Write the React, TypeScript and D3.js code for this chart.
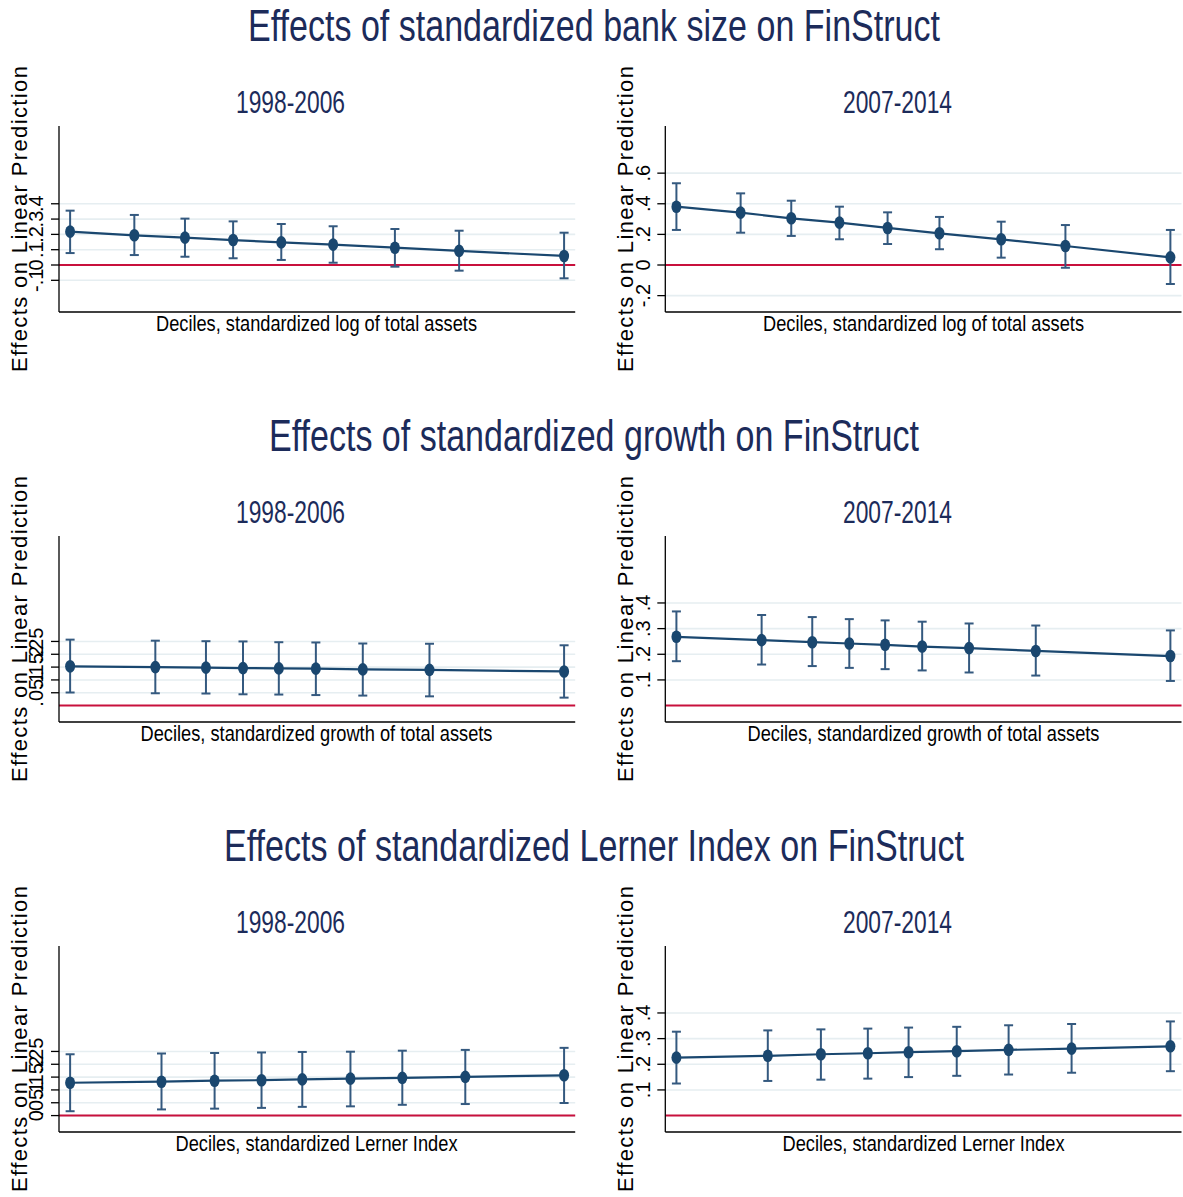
import React from 'react';
import * as d3 from 'd3';

const periods = ["1998-2006", "2007-2014"];
const sectionTitles = [
  "Effects of standardized bank size on FinStruct",
  "Effects of standardized growth on FinStruct",
  "Effects of standardized Lerner Index on FinStruct",
];
const xAxisTitles = [
  "Deciles, standardized log of total assets",
  "Deciles, standardized growth of total assets",
  "Deciles, standardized Lerner Index",
];
const yAxisTitle = "Effects on Linear Prediction";

const sizeDeciles = [-1.5, -0.98, -0.57, -0.18, 0.21, 0.63, 1.13, 1.65, 2.5];
const growthDeciles = [-1.5, -0.81, -0.4, -0.1, 0.19, 0.49, 0.87, 1.41, 2.5];
const lernerDeciles = [-1.5, -0.76, -0.33, 0.05, 0.38, 0.77, 1.19, 1.7, 2.5];

const sizeEarlyEst = [0.218, 0.194, 0.179, 0.163, 0.148, 0.133, 0.113, 0.092, 0.059];
const sizeEarlyLo = [0.078, 0.065, 0.054, 0.044, 0.033, 0.015, -0.011, -0.037, -0.087];
const sizeEarlyHi = [0.355, 0.327, 0.303, 0.285, 0.268, 0.253, 0.235, 0.224, 0.211];
const sizeLateEst = [0.381, 0.342, 0.305, 0.277, 0.242, 0.207, 0.168, 0.124, 0.05];
const sizeLateLo = [0.229, 0.211, 0.19, 0.168, 0.137, 0.103, 0.048, -0.018, -0.124];
const sizeLateHi = [0.534, 0.468, 0.42, 0.381, 0.344, 0.314, 0.283, 0.261, 0.229];
const growthEarlyEst = [0.153, 0.15, 0.148, 0.146, 0.145, 0.144, 0.141, 0.139, 0.133];
const growthEarlyLo = [0.051, 0.048, 0.047, 0.044, 0.043, 0.041, 0.039, 0.036, 0.031];
const growthEarlyHi = [0.257, 0.253, 0.251, 0.25, 0.247, 0.246, 0.242, 0.241, 0.235];
const growthLateEst = [0.268, 0.255, 0.247, 0.242, 0.237, 0.23, 0.224, 0.213, 0.193];
const growthLateLo = [0.173, 0.16, 0.154, 0.147, 0.142, 0.137, 0.129, 0.117, 0.096];
const growthLateHi = [0.367, 0.353, 0.345, 0.337, 0.332, 0.327, 0.32, 0.312, 0.293];
const lernerEarlyEst = [0.128, 0.132, 0.136, 0.138, 0.141, 0.144, 0.147, 0.151, 0.157];
const lernerEarlyLo = [0.017, 0.024, 0.027, 0.03, 0.034, 0.036, 0.042, 0.045, 0.049];
const lernerEarlyHi = [0.239, 0.242, 0.244, 0.246, 0.248, 0.249, 0.253, 0.256, 0.264];
const lernerLateEst = [0.226, 0.233, 0.239, 0.243, 0.247, 0.251, 0.256, 0.261, 0.27];
const lernerLateLo = [0.125, 0.135, 0.14, 0.144, 0.15, 0.155, 0.16, 0.167, 0.173];
const lernerLateHi = [0.327, 0.332, 0.336, 0.339, 0.343, 0.346, 0.352, 0.357, 0.367];

const sizeTicksEarly = [-0.1, 0, 0.1, 0.2, 0.3, 0.4];
const sizeTicksLate = [-0.2, 0, 0.2, 0.4, 0.6];
const growthTicksEarly = [0.05, 0.1, 0.15, 0.2, 0.25];
const growthTicksLate = [0.1, 0.2, 0.3, 0.4];
const lernerTicksEarly = [0, 0.05, 0.1, 0.15, 0.2, 0.25];
const lernerTicksLate = [0.1, 0.2, 0.3, 0.4];

const sizeYDomain = [-0.307, 0.908];
const shareYDomain = [-0.064, 0.661];
const xDomain = [-1.59, 2.59];

const rows = [
  {
    xs: sizeDeciles, yDomain: sizeYDomain,
    panels: [
      { est: sizeEarlyEst, lo: sizeEarlyLo, hi: sizeEarlyHi, ticks: sizeTicksEarly },
      { est: sizeLateEst, lo: sizeLateLo, hi: sizeLateHi, ticks: sizeTicksLate },
    ],
  },
  {
    xs: growthDeciles, yDomain: shareYDomain,
    panels: [
      { est: growthEarlyEst, lo: growthEarlyLo, hi: growthEarlyHi, ticks: growthTicksEarly },
      { est: growthLateEst, lo: growthLateLo, hi: growthLateHi, ticks: growthTicksLate },
    ],
  },
  {
    xs: lernerDeciles, yDomain: shareYDomain,
    panels: [
      { est: lernerEarlyEst, lo: lernerEarlyLo, hi: lernerEarlyHi, ticks: lernerTicksEarly },
      { est: lernerLateEst, lo: lernerLateLo, hi: lernerLateHi, ticks: lernerTicksLate },
    ],
  },
];

const W = 1183;
const H = 1197;
const ROW_STEP = 410;
const PLOT_TOP = 126;
const PLOT_BOTTOM = 312;
const cols = [
  { x0: 59, x1: 575.2, subX: 290.5, xTitleX: 316.5, yTitleX: 26.5, tickLabelX: 43 },
  { x0: 665.3, x1: 1181.5, subX: 897.5, xTitleX: 923.5, yTitleX: 632.5, tickLabelX: 650 },
];
const titleWidths = [692, 650, 740];
const xTitleWidths = [321, 352, 282];

const NAVY = '#1a476f';
const CI = '#34597f';
const RED = '#c8103c';
const GRID = '#e6eef1';
const TITLE = '#1c2b5a';
const NARROW = '"Liberation Sans Narrow", "Arial Narrow", "Liberation Sans", Arial, sans-serif';
const SANS = '"Liberation Sans", Arial, Helvetica, sans-serif';

const fmtTick = (v: number) => {
  if (Math.abs(v) < 1e-9) return '0';
  const s = String(+Math.abs(v).toFixed(3)).replace(/^0\./, '.');
  return (v < 0 ? '-' : '') + s;
};

export default function App() {
  return (
    <svg width={W} height={H} style={{ position: 'absolute', left: 0, top: 0, background: '#fff' }}>
      <rect x={0} y={0} width={W} height={H} fill="#fff" />
      {rows.map((row, r) => {
        const oy = r * ROW_STEP;
        const y = d3.scaleLinear().domain(row.yDomain).range([PLOT_BOTTOM + oy, PLOT_TOP + oy]);
        return (
          <g key={r}>
            <text
              x={594}
              y={41 + oy}
              textAnchor="middle"
              fontFamily={NARROW}
              fontSize={44}
              fill={TITLE}
              textLength={titleWidths[r]}
              lengthAdjust="spacingAndGlyphs"
            >
              {sectionTitles[r]}
            </text>
            {row.panels.map((p, c) => {
              const col = cols[c];
              const x = d3.scaleLinear().domain(xDomain).range([col.x0, col.x1]);
              const line = d3
                .line<number>()
                .x((_, i) => x(row.xs[i]))
                .y((d) => y(d));
              return (
                <g key={c}>
                  {p.ticks.map((t) => (
                    <line key={'g' + t} x1={col.x0} x2={col.x1} y1={y(t)} y2={y(t)} stroke={GRID} strokeWidth={1.6} />
                  ))}
                  <line x1={col.x0} x2={col.x1} y1={y(0)} y2={y(0)} stroke={RED} strokeWidth={2} />
                  <line x1={col.x0} x2={col.x0} y1={PLOT_TOP + oy} y2={PLOT_BOTTOM + oy} stroke="#000" strokeWidth={1.3} />
                  <line x1={col.x0} x2={col.x1} y1={PLOT_BOTTOM + oy} y2={PLOT_BOTTOM + oy} stroke="#000" strokeWidth={1.3} />
                  {p.ticks.map((t) => (
                    <g key={'t' + t}>
                      <line x1={col.x0 - 8} x2={col.x0} y1={y(t)} y2={y(t)} stroke="#000" strokeWidth={1.3} />
                      <text
                        transform={`translate(${col.tickLabelX},${y(t)}) rotate(-90)`}
                        textAnchor="middle"
                        fontFamily={SANS}
                        fontSize={20}
                        fill="#000"
                      >
                        {fmtTick(t)}
                      </text>
                    </g>
                  ))}
                  {row.xs.map((xv, i) => (
                    <g key={'ci' + i} stroke={CI} strokeWidth={2}>
                      <line x1={x(xv)} x2={x(xv)} y1={y(p.lo[i])} y2={y(p.hi[i])} />
                      <line x1={x(xv) - 4.5} x2={x(xv) + 4.5} y1={y(p.lo[i])} y2={y(p.lo[i])} />
                      <line x1={x(xv) - 4.5} x2={x(xv) + 4.5} y1={y(p.hi[i])} y2={y(p.hi[i])} />
                    </g>
                  ))}
                  <path d={line(p.est) || ''} fill="none" stroke={NAVY} strokeWidth={2.2} />
                  {row.xs.map((xv, i) => (
                    <ellipse key={'m' + i} cx={x(xv)} cy={y(p.est[i])} rx={5} ry={6.3} fill={NAVY} />
                  ))}
                  <text
                    x={col.subX}
                    y={113 + oy}
                    textAnchor="middle"
                    fontFamily={NARROW}
                    fontSize={31}
                    fill={TITLE}
                    textLength={109}
                    lengthAdjust="spacingAndGlyphs"
                  >
                    {periods[c]}
                  </text>
                  <text
                    x={col.xTitleX}
                    y={331 + oy}
                    textAnchor="middle"
                    fontFamily={NARROW}
                    fontSize={22}
                    fill="#000"
                    textLength={xTitleWidths[r]}
                    lengthAdjust="spacingAndGlyphs"
                  >
                    {xAxisTitles[r]}
                  </text>
                  <text
                    transform={`translate(${col.yTitleX},${219 + oy}) rotate(-90)`}
                    textAnchor="middle"
                    fontFamily={SANS}
                    fontSize={22}
                    fill="#000"
                    textLength={306}
                    lengthAdjust="spacing"
                  >
                    {yAxisTitle}
                  </text>
                </g>
              );
            })}
          </g>
        );
      })}
    </svg>
  );
}
